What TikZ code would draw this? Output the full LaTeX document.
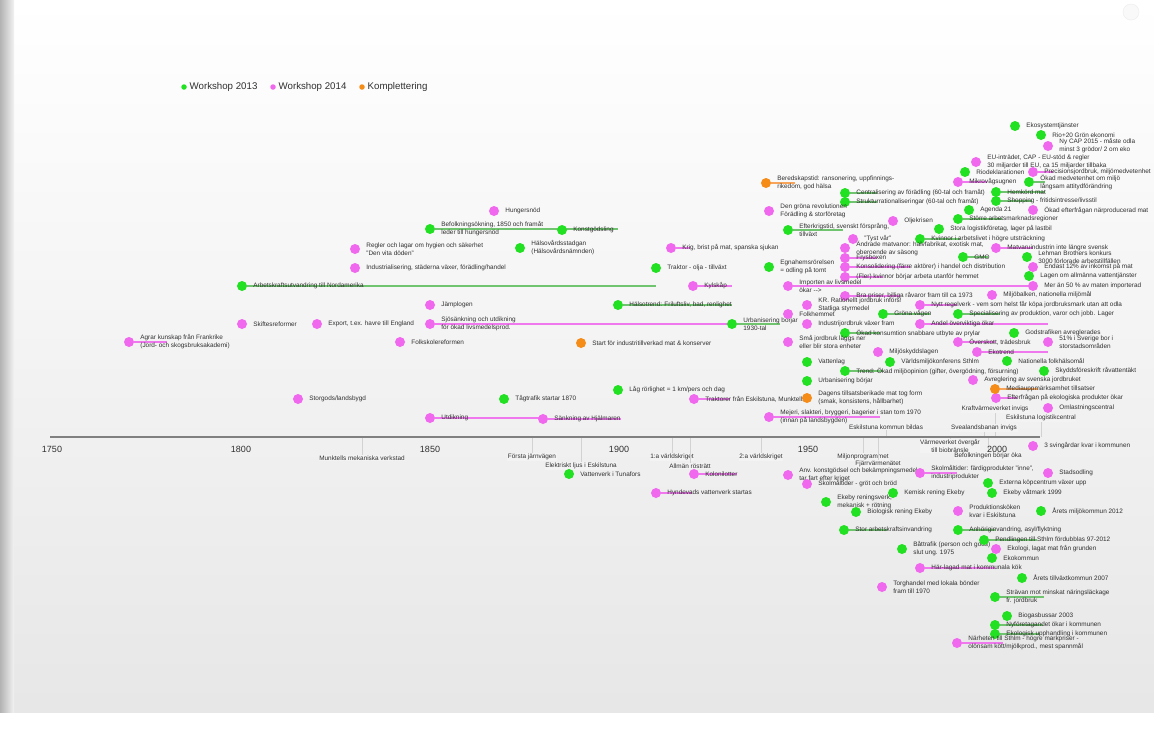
\documentclass[tikz,border=0pt]{standalone}
\usepackage{fontspec}
\setmainfont{Liberation Sans}
\usepackage{tikz}
\usetikzlibrary{backgrounds,positioning}

\definecolor{dotgreen}{RGB}{34,224,34}
\definecolor{dotpink}{RGB}{240,104,238}
\definecolor{dotorange}{RGB}{246,140,24}
\definecolor{bargreen}{RGB}{112,196,112}
\definecolor{barpink}{RGB}{240,120,238}
\definecolor{barorange}{RGB}{246,165,90}
\definecolor{txtgray}{RGB}{48,48,48}
\definecolor{axisgray}{RGB}{128,128,128}
\definecolor{panel}{RGB}{243,243,243}

\begin{document}
\begin{tikzpicture}[x=1pt, y=-1pt,
	dot/.style={circle, inner sep=0pt, minimum size=10pt},
	lbl/.style={anchor=west, inner sep=0pt, align=left, text=txtgray, font=\fontsize{6.4}{8}\selectfont},
	evlbl/.style={inner sep=0.6pt, align=center, text=txtgray, fill=panel, font=\fontsize{6.4}{8}\selectfont},
	yrlbl/.style={inner sep=0pt, text=txtgray, font=\fontsize{9}{9}\selectfont},
	bar/.style={line width=2pt},
	tickline/.style={draw=gray!35, very thin}]

	\useasboundingbox (0,0) rectangle (1154,729);

	% page
	\begin{scope}[on background layer]
		\fill[white] (0,0) rectangle (1154,729);
		\shade[top color=white, bottom color=panel!95!black] (14,0) rectangle (1154,712);
		\shade[left color=gray!60, right color=gray!10] (0,0) rectangle (14,712);
	\end{scope}
	\node[circle, draw=gray!15, fill=gray!5, minimum size=16pt] (btn) at (1131,12) {};

	% legend
	\node[dot, minimum size=5.5pt, fill=dotgreen] (lg1) at (184,87) {};
	\node[lbl, font=\fontsize{9.7}{10}\selectfont, right=2.5pt of lg1] (lt1) {Workshop 2013};
	\node[dot, minimum size=5.5pt, fill=dotpink] (lg2) at (273,87) {};
	\node[lbl, font=\fontsize{9.7}{10}\selectfont, right=2.5pt of lg2] (lt2) {Workshop 2014};
	\node[dot, minimum size=5.5pt, fill=dotorange] (lg3) at (362,87) {};
	\node[lbl, font=\fontsize{9.7}{10}\selectfont, right=2.5pt of lg3] (lt3) {Komplettering};

	% events on the axis
	\foreach \xa/\ya/\txt [count=\i] in {
		362/458/{Munktells mekaniska verkstad},
		532/457/{Första järnvägen},
		581/466/{Elektriskt ljus i Eskilstuna},
		672/457/{1:a världskriget},
		690/466/{Allmän rösträtt},
		761/457/{2:a världskriget},
		863/457/{Miljonprogrammet},
		878/464/{Fjärrvärmenätet},
		950/446/{Värmeverket övergår\\till biobränsle},
		988/456/{Befolkningen börjar öka},
		886/427/{Eskilstuna kommun bildas},
		995/409/{Kraftvärmeverket invigs},
		984/428/{Svealandsbanan invigs},
		1041/418/{Eskilstuna logistikcentral}}{
		\coordinate (ta\i) at (\xa,437);
		\node[evlbl] (ev\i) at (\xa,\ya) {\txt};
		\draw[tickline] (ta\i) -- (ev\i);
	}

	% axis
	\coordinate (axl) at (50,437);
	\coordinate (axr) at (1040,437);
	\draw[axisgray, line width=2.5pt] (axl) -- (axr);
	\foreach \yr [count=\i] in {1750,1800,1850,1900,1950,2000}
		\node[yrlbl] (yr\i) at ({52+(\yr-1750)*3.78},449) {\yr};

	% Workshop 2013
	\foreach \xa/\ya/\xe/\txt [count=\i] in {
		430/229/618/{Befolkningsökning, 1850 och framåt\\leder till hungersnöd},
		242/286/656/{Arbetskraftsutvandring till Nordamerika},
		562/230/0/{Konstgödsling},
		520/248/0/{Hälsovårdsstadgan\\(Hälsovårdsnämnden)},
		656/268/0/{Traktor - olja - tillväxt},
		618/305/732/{Hälsotrend: Friluftsliv, bad, renlighet},
		732/324/780/{Urbanisering börjar\\1930-tal},
		618/390/0/{Låg rörlighet = 1 km/pers och dag},
		504/399/0/{Tågtrafik startar 1870},
		569/474/0/{Vattenverk i Tunafors},
		845/193/877/{Centralisering av förädling (60-tal och framåt)},
		845/202/877/{Strukturrationaliseringar (60-tal och framåt)},
		788/230/843/{Efterkrigstid, svenskt försprång,\\tillväxt},
		920/239/960/{Kvinnor i arbetslivet i högre utsträckning},
		769/267/0/{Egnahemsrörelsen\\= odling på tomt},
		883/314/930/{Gröna vågen},
		845/333/880/{Ökad konsumtion snabbare utbyte av prylar},
		807/362/0/{Vattenlag},
		890/362/0/{Världsmiljökonferens Sthlm},
		845/371/883/{Trend: Ökad miljöopinion (gifter, övergödning, försurning)},
		807/381/0/{Urbanisering börjar},
		1015/126/0/{Ekosystemtjänster},
		1041/135/0/{Rio+20 Grön ekonomi},
		965/172/0/{Riodeklarationen},
		1029/182/1045/{Ökad medvetenhet om miljö\\långsam attitydförändring},
		996/192/1045/{Hemkörd mat},
		996/201/1032/{Shopping - fritidsintresse/livsstil},
		969/210/0/{Agenda 21},
		958/219/1002/{Större arbetsmarknadsregioner},
		939/229/0/{Stora logistikföretag, lager på lastbil},
		1027/257/0/{Lehman Brothers konkurs\\3000 förlorade arbetstillfällen},
		963/257/988/{GMO},
		1029/276/0/{Lagen om allmänna vattentjänster},
		958/314/1000/{Specialisering av produktion, varor och jobb. Lager},
		1014/333/0/{Godstrafiken avreglerades},
		1007/361/0/{Nationella folkhälsomål},
		1044/371/0/{Skyddsföreskrift råvattentäkt},
		893/493/0/{Kemisk rening Ekeby},
		826/502/0/{Ekeby reningsverk,\\mekanisk + rötning},
		856/512/0/{Biologisk rening Ekeby},
		844/530/887/{Stor arbetskraftsinvandring},
		902/549/0/{Båttrafik (person och gods)\\slut ung. 1975},
		988/483/0/{Externa köpcentrum växer upp},
		992/493/0/{Ekeby våtmark 1999},
		1041/511/0/{Årets miljökommun 2012},
		958/530/995/{Anhöriginvandring, asyl/flyktning},
		984/540/1037/{Pendlingen till Sthlm fördubblas 97-2012},
		992/558/0/{Ekokommun},
		1022/578/0/{Årets tillväxtkommun 2007},
		995/597/1044/{Strävan mot minskat näringsläckage\\fr. jordbruk},
		1007/616/0/{Biogasbussar 2003},
		995/625/1043/{Nyföretagandet ökar i kommunen},
		995/634/1040/{Ekologisk upphandling i kommunen}}{
		\node[dot, fill=dotgreen] (g\i) at (\xa,\ya) {};
		\node[lbl, right=6pt of g\i] (gt\i) {\txt};
		\ifnum\xe>0
			\coordinate (ge\i) at (\xe,\ya);
			\begin{scope}[on background layer]
				\draw[bar, bargreen] (g\i) -- (ge\i);
			\end{scope}
		\fi
	}

	% Workshop 2014
	\foreach \xa/\ya/\xe/\txt [count=\i] in {
		494/211/0/{Hungersnöd},
		355/249/0/{Regler och lagar om hygien och säkerhet\\"Den vita döden"},
		355/268/0/{Industrialisering, städerna växer, förädling/handel},
		430/305/0/{Jämplogen},
		242/324/0/{Skiftesreformer},
		317/324/0/{Export, t.ex. havre till England},
		430/324/732/{Sjösänkning och utdikning\\för ökad livsmedelsprod.},
		129/342/167/{Agrar kunskap från Frankrike\\(Jord- och skogsbruksakademi)},
		400/342/0/{Folkskolereformen},
		298/399/0/{Storgods/landsbygd},
		430/418/543/{Utdikning},
		543/419/621/{Sänkning av Hjälmaren},
		671/248/690/{Krig, brist på mat, spanska sjukan},
		693/286/732/{Kylskåp},
		694/399/730/{Traktorer från Eskilstuna, Munktells},
		694/474/737/{Kolonilotter},
		656/493/692/{Hyndevads vattenverk startas},
		769/211/0/{Den gröna revolutionen\\Förädling \& storföretag},
		893/221/0/{Oljekrisen},
		853/239/0/{"Tyst vår"},
		845/248/0/{Ändrade matvanor: halvfabrikat, exotisk mat,\\oberoende av säsong},
		845/258/877/{Frysboxen},
		845/267/910/{Konsolidering (färre aktörer) i handel och distribution},
		845/277/883/{(Fler) kvinnor börjar arbeta utanför hemmet},
		788/286/1033/{Importen av livsmedel\\ökar -{}->},
		845/296/900/{Bra priser, billiga råvaror fram till ca 1973},
		807/305/0/{KR. Rationellt jordbruk införs!\\Statliga styrmedel},
		920/305/957/{Nytt regelverk - vem som helst får köpa jordbruksmark utan att odla},
		788/314/0/{Folkhemmet},
		807/324/0/{Industrijordbruk växer fram},
		920/324/1048/{Andel överviktiga ökar},
		788/342/0/{Små jordbruk läggs ner\\eller blir stora enheter},
		878/352/0/{Miljöskyddslagen},
		769/417/880/{Mejeri, slakteri, bryggeri, bagerier i stan tom 1970\\(innan på landsbygden)},
		1048/146/0/{Ny CAP 2015 - måste odla\\minst 3 grödor/ 2 om eko},
		976/162/0/{EU-inträdet, CAP - EU-stöd \& regler\\30 miljarder till EU, ca 15 miljarder tillbaka},
		1033/172/1053/{Precisionsjordbruk, miljömedvetenhet},
		958/182/987/{Mikrovågsugnen},
		1033/210/0/{Ökad efterfrågan närproducerad mat},
		996/248/1033/{Matvaruindustrin inte längre svensk},
		1033/267/0/{Endast 12\% av inkomst på mat},
		1033/286/0/{Mer än 50 \% av maten importerad},
		992/295/0/{Miljöbalken, nationella miljömål},
		958/342/995/{Överskott, trädesbruk},
		1048/342/0/{51\% i Sverige bor i\\storstadsområden},
		977/352/1048/{Ekotrend},
		973/380/0/{Avreglering av svenska jordbruket},
		996/398/1017/{Efterfrågan på ekologiska produkter ökar},
		1048/408/0/{Omlastningscentral},
		788/475/0/{Anv. konstgödsel och bekämpningsmedel\\tar fart efter kriget},
		807/484/0/{Skolmåltider - gröt och bröd},
		920/473/957/{Skolmåltider: färdigprodukter "inne",\\industriprodukter},
		920/568/995/{Här-lagad mat i kommunala kök},
		1033/446/0/{3 svingårdar kvar i kommunen},
		1048/473/0/{Stadsodling},
		958/511/0/{Produktionsköken\\kvar i Eskilstuna},
		996/549/0/{Ekologi, lagat mat från grunden},
		882/587/0/{Torghandel med lokala bönder\\fram till 1970},
		957/643/1003/{Närheten till Sthlm - högre markpriser -\\olönsam kött/mjölkprod., mest spannmål}}{
		\node[dot, fill=dotpink] (p\i) at (\xa,\ya) {};
		\node[lbl, right=6pt of p\i] (pt\i) {\txt};
		\ifnum\xe>0
			\coordinate (pe\i) at (\xe,\ya);
			\begin{scope}[on background layer]
				\draw[bar, barpink] (p\i) -- (pe\i);
			\end{scope}
		\fi
	}

	% Komplettering
	\foreach \xa/\ya/\xe/\txt [count=\i] in {
		581/343/0/{Start för industritillverkad mat \& konserver},
		766/183/795/{Beredskapstid: ransonering, uppfinnings-\\rikedom, god hälsa},
		807/398/0/{Dagens tillsatsberikade mat tog form\\(smak, konsistens, hållbarhet)},
		995/389/1038/{Mediauppmärksamhet tillsatser}}{
		\node[dot, fill=dotorange] (o\i) at (\xa,\ya) {};
		\node[lbl, right=6pt of o\i] (ot\i) {\txt};
		\ifnum\xe>0
			\coordinate (oe\i) at (\xe,\ya);
			\begin{scope}[on background layer]
				\draw[bar, barorange] (o\i) -- (oe\i);
			\end{scope}
		\fi
	}

\end{tikzpicture}
\end{document}
